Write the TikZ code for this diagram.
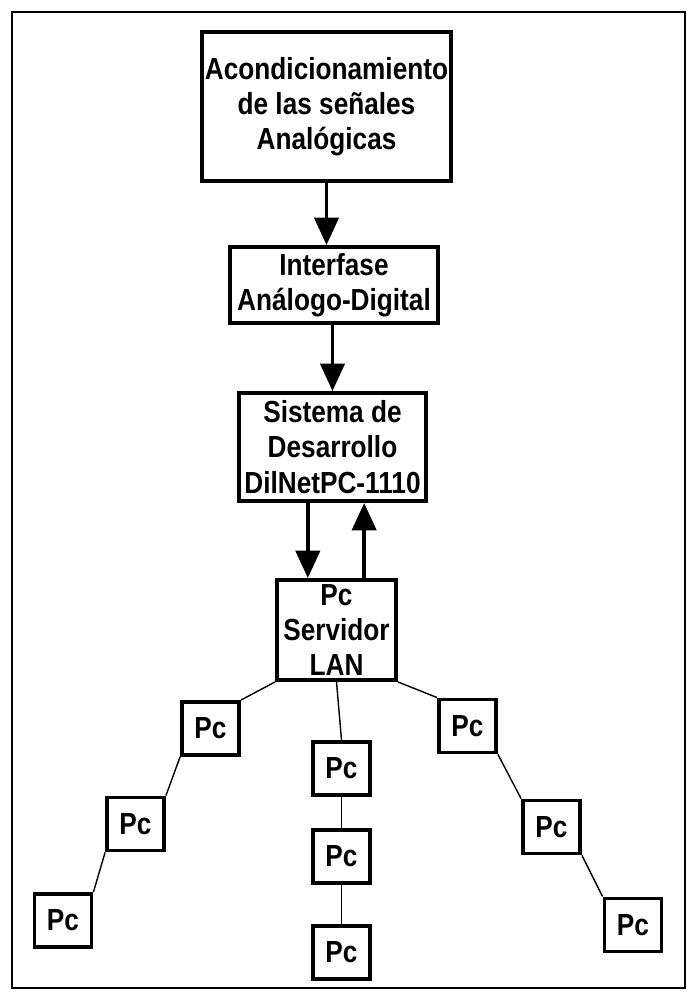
\documentclass[tikz,border=0pt]{standalone}
\usepackage{fontspec}
\setmainfont{Liberation Sans}[FakeStretch=0.86]
\usepackage{tikz}
\usetikzlibrary{arrows.meta}

\begin{document}
\begin{tikzpicture}[x=0.03cm, y=-0.03cm,
    bloque/.style={draw, line width=3.3pt, align=center, inner sep=0pt,
      font=\bfseries\fontsize{26}{30}\selectfont},
    pc/.style={bloque, minimum width=1.71cm, minimum height=1.59cm},
    flecha/.style={line width=3.4pt, -{Triangle[length=0.82cm, width=0.72cm]}},
    red/.style={line width=1.2pt}]
  \useasboundingbox (0,0) rectangle (689,992);
  \draw[line width=1.6pt] (12,12) rectangle (685,988);

  \node[bloque, minimum width=7.47cm, minimum height=4.47cm] (acond) at (326.5,106.5)
    {Acondicionamiento\\de las señales\\Analógicas};
  \node[bloque, minimum width=6.24cm, minimum height=2.28cm] (interf) at (334,285)
    {Interfase\\Análogo-Digital};
  \node[bloque, minimum width=5.61cm, minimum height=3.24cm] (sistema) at (332.5,447)
    {Sistema de\\Desarrollo\\DilNetPC-1110};
  \node[bloque, minimum width=3.57cm, minimum height=3.0cm] (servidor) at (336.5,630)
    {Pc\\Servidor\\LAN};

  \draw[flecha] (acond.south) -- (acond.south |- interf.north);
  \draw[flecha] (sistema.north |- interf.south) -- (sistema.north);
  \draw[flecha] ([xshift=-0.86cm]servidor.north |- sistema.south) -- ([xshift=-0.86cm]servidor.north);
  \draw[flecha] ([xshift=0.83cm]servidor.north) -- ([xshift=0.83cm]servidor.north |- sistema.south);

  \node[pc] (izq1) at (210.5,728.5) {Pc};
  \node[pc] (izq2) at (135.5,824) {Pc};
  \node[pc] (izq3) at (63,920.5) {Pc};
  \node[pc] (cen1) at (341.5,768.5) {Pc};
  \node[pc] (cen2) at (341.5,856.5) {Pc};
  \node[pc] (cen3) at (341.5,952.5) {Pc};
  \node[pc] (der1) at (467.5,726) {Pc};
  \node[pc] (der2) at (551.5,827) {Pc};
  \node[pc] (der3) at (633,925) {Pc};

  \draw[red] (servidor.south west) -- (izq1.north east);
  \draw[red] (izq1.south west) -- (izq2.north east);
  \draw[red] (izq2.south west) -- (izq3.north east);
  \draw[red] (servidor.south) -- (cen1.north);
  \draw[red] (cen1) -- (cen2);
  \draw[red] (cen2) -- (cen3);
  \draw[red] (servidor.south east) -- (der1.north west);
  \draw[red] (der1.south east) -- (der2.north west);
  \draw[red] (der2.south east) -- (der3.north west);
\end{tikzpicture}
\end{document}
